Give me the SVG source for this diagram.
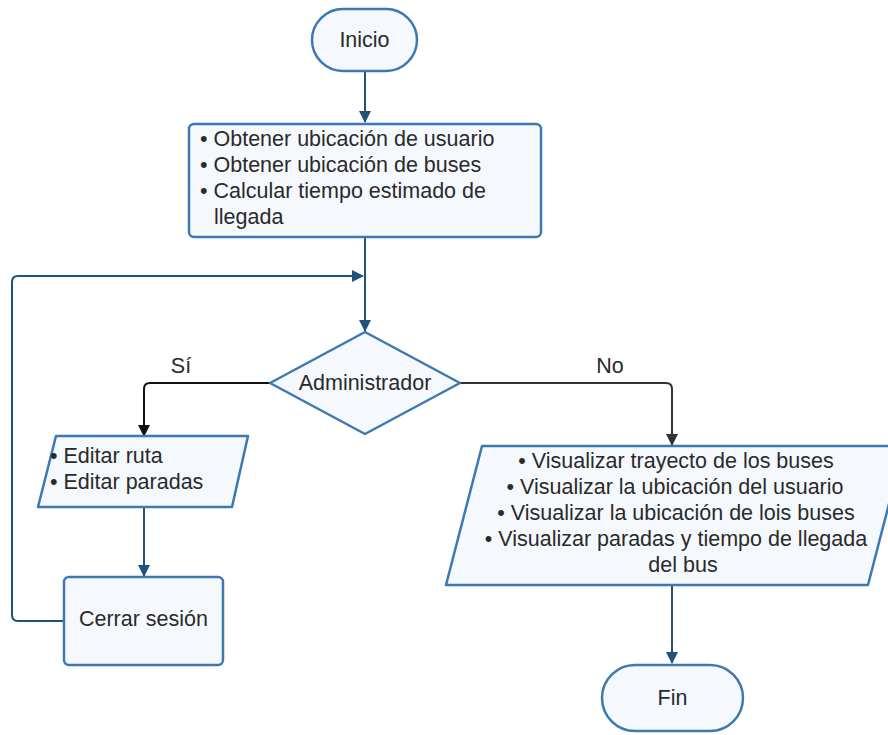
<svg xmlns="http://www.w3.org/2000/svg" width="888" height="735" viewBox="0 0 888 735">
<defs>
<style>
.shape{fill:#f5f9fe;stroke:#3c79b3;stroke-width:2.5;stroke-linejoin:round}
.t{font-family:"Liberation Sans",Arial,sans-serif;font-size:21.5px;fill:#2a2a2a}
.c{fill:none;stroke:#22517e;stroke-width:2}
.k{fill:none;stroke:#111;stroke-width:2}
.g{fill:none;stroke:#333;stroke-width:2}
</style>
<marker id="ab" viewBox="0 0 12 12" refX="11" refY="6" markerWidth="12" markerHeight="12" markerUnits="userSpaceOnUse" orient="auto"><path d="M0,0 L12,6 L0,12 Z" fill="#22517e"/></marker>
<marker id="ak" viewBox="0 0 12 12" refX="11" refY="6" markerWidth="12" markerHeight="12" markerUnits="userSpaceOnUse" orient="auto"><path d="M0,0 L12,6 L0,12 Z" fill="#111"/></marker>
<marker id="ag" viewBox="0 0 12 12" refX="11" refY="6" markerWidth="12" markerHeight="12" markerUnits="userSpaceOnUse" orient="auto"><path d="M0,0 L12,6 L0,12 Z" fill="#333"/></marker>
</defs>
<rect width="888" height="735" fill="#fff"/>
<g id="connectors">
<path class="c" d="M365,71 V122" marker-end="url(#ab)"/>
<path class="c" d="M365,237 V331" marker-end="url(#ab)"/>
<path class="c" d="M64,621 H18 Q12,621 12,615 V282 Q12,276 18,276 H363" marker-end="url(#ab)"/>
<path class="k" d="M270,383 H150 Q144,383 144,389 V436" marker-end="url(#ak)"/>
<path class="g" d="M460,383 H666 Q672,383 672,389 V445" marker-end="url(#ag)"/>
<path class="c" d="M144,507 V576" marker-end="url(#ab)"/>
<path class="c" d="M672,585 V663" marker-end="url(#ab)"/>
<text class="t" x="181" y="373" text-anchor="middle">Sí</text>
<text class="t" x="610" y="373" text-anchor="middle">No</text>
</g>
<g id="inicio">
<rect class="shape" x="312" y="9" width="105" height="62" rx="31"/>
<text class="t" x="364.5" y="47" text-anchor="middle">Inicio</text>
</g>
<g id="obtener">
<rect class="shape" x="189" y="124" width="352" height="113" rx="5"/>
<text class="t" x="200" y="146">• Obtener ubicación de usuario</text>
<text class="t" x="200" y="172">• Obtener ubicación de buses</text>
<text class="t" x="200" y="198">• Calcular tiempo estimado de</text>
<text class="t" x="214" y="224">llegada</text>
</g>
<g id="administrador">
<path class="shape" d="M365,332 L460,383 L365,434 L270,383 Z"/>
<text class="t" x="365" y="390" text-anchor="middle">Administrador</text>
</g>
<g id="editar">
<path class="shape" d="M56,436 H248 L232,507 H38 Z"/>
<text class="t" x="50" y="463">• Editar ruta</text>
<text class="t" x="50" y="489">• Editar paradas</text>
</g>
<g id="cerrar">
<rect class="shape" x="64" y="577" width="159" height="88" rx="5"/>
<text class="t" x="143.5" y="626" text-anchor="middle">Cerrar sesión</text>
</g>
<g id="visualizar">
<path class="shape" d="M482,446 H904 L868,585 H446 Z"/>
<text class="t" x="676" y="468" text-anchor="middle">• Visualizar trayecto de los buses</text>
<text class="t" x="675" y="494" text-anchor="middle">• Visualizar la ubicación del usuario</text>
<text class="t" x="676" y="520" text-anchor="middle">• Visualizar la ubicación de lois buses</text>
<text class="t" x="676" y="546" text-anchor="middle">• Visualizar paradas y tiempo de llegada</text>
<text class="t" x="683" y="572" text-anchor="middle">del bus</text>
</g>
<g id="fin">
<rect class="shape" x="602" y="665" width="141" height="66" rx="33"/>
<text class="t" x="672.5" y="705" text-anchor="middle">Fin</text>
</g>
</svg>
